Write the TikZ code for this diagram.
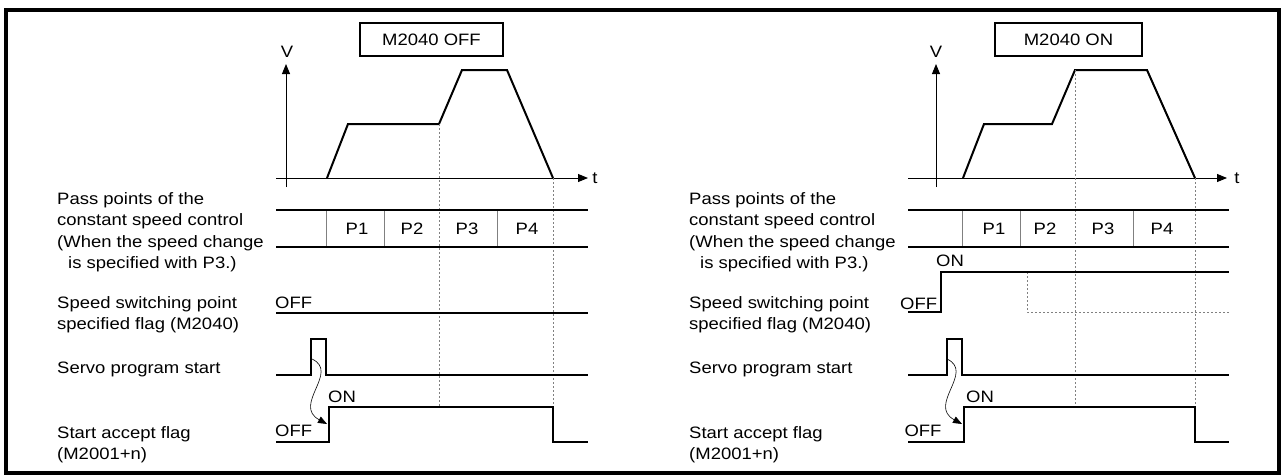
\documentclass[tikz,border=0pt]{standalone}
\usepackage{fontspec}
\setmainfont{Liberation Sans}[FakeStretch=1.12]
\usetikzlibrary{arrows.meta}
\definecolor{guide}{HTML}{808080}

\begin{document}
\begin{tikzpicture}[
  x=1pt,y=-1pt,
  every node/.style={font=\fontsize{16.5}{21.5}\selectfont,inner sep=0pt},
  frame/.style={line width=4pt},
  modebox/.style={draw,line width=1.5pt,minimum height=33pt},
  axis/.style={line width=0.9pt,-{Triangle[length=10pt,width=8pt]}},
  prof/.style={line width=2pt,line join=miter},
  sig/.style={line width=2pt},
  sep/.style={draw=guide,line width=0.9pt},
  guideline/.style={draw=guide,line width=0.9pt,dash pattern=on 2pt off 2pt},
  cause/.style={line width=0.6pt,-{Triangle[length=9pt,width=7pt]}},
  lbl/.style={anchor=base west,align=left}
]
  \useasboundingbox (0,0) rectangle (1283,475);
  \draw[frame] (6,10) rectangle (1279,473);

  % M2040 OFF
  \node[modebox,minimum width=143pt] (offmode) at (431.5,39.5) {M2040 OFF};
  \node (vOff) at (287,52) {V};
  \node (tOff) at (595,178) {t};
  \draw[axis] (286,187) -- (286,64);
  \draw[axis] (276,178) -- (588,178);
  \draw[prof] (327,178) -- (348,124) -- (439,124) -- (462,70) -- (507,70) -- (553,178);
  \draw[guideline] (439,124) -- (439,407) (553,178) -- (553,407);
  \draw[sep] (326,210) -- (326,247) (384,210) -- (384,247) (497,210) -- (497,247);
  \draw[sig] (276,210) -- (588,210) (276,247) -- (588,247);
  \foreach \x/\p in {357/P1,412/P2,467/P3,527/P4}
    \node (\p off) at (\x,229) {\p};
  \draw[sig] (276,313) -- (588,313);
  \draw[sig] (276,375) -- (311,375) -- (311,339) -- (326,339) -- (326,375) -- (588,375);
  \draw[sig] (276,442) -- (329,442) -- (329,407) -- (553,407) -- (553,442) -- (588,442);
  \draw[cause] (312,359) .. controls (340,372) and (292,405) .. (327,424);
  \node[anchor=base west] (swOffL) at (275,308) {OFF};
  \node[anchor=base west] (accOnL) at (328,402) {ON};
  \node[anchor=base west] (accOffL) at (275,436) {OFF};

  \node[lbl] (passOff) at (57,268.5) {Pass points of the\\constant speed control\\(When the speed change\\\hspace*{11pt}is specified with P3.)};
  \node[lbl] (swOff) at (57,329.5) {Speed switching point\\specified flag (M2040)};
  \node[lbl] (srvOff) at (57,373) {Servo program start};
  \node[lbl] (accOff) at (57,459.5) {Start accept flag\\(M2001+n)};

  % M2040 ON
  \node[modebox,minimum width=147pt] (onmode) at (1068.5,39.5) {M2040 ON};
  \node (vOn) at (936,52) {V};
  \node (tOn) at (1237,178) {t};
  \draw[axis] (936,187) -- (936,64);
  \draw[axis] (908,178) -- (1227,178);
  \draw[prof] (963,178) -- (984,124) -- (1052,124) -- (1075,70) -- (1147,70) -- (1195,178);
  \draw[guideline] (1075,70) -- (1075,407) (1195,178) -- (1195,407);
  \draw[guideline] (1027,272) -- (1027,312) -- (1229,312);
  \draw[sep] (962,210) -- (962,247) (1020,210) -- (1020,247) (1133,210) -- (1133,247);
  \draw[sig] (908,210) -- (1229,210) (908,247) -- (1229,247);
  \foreach \x/\p in {994/P1,1045/P2,1103/P3,1162/P4}
    \node (\p on) at (\x,229) {\p};
  \draw[sig] (908,312) -- (941,312) -- (941,272) -- (1229,272);
  \draw[sig] (908,375) -- (947,375) -- (947,339) -- (962,339) -- (962,375) -- (1229,375);
  \draw[sig] (908,442) -- (964,442) -- (964,407) -- (1195,407) -- (1195,442) -- (1229,442);
  \draw[cause] (947,359) .. controls (975,372) and (927,405) .. (962,424);
  \node[anchor=base] (swOnH) at (950,266) {ON};
  \node[anchor=base west] (swOnL) at (900,309) {OFF};
  \node[anchor=base] (accOnH) at (980,402) {ON};
  \node[anchor=base] (accOnLo) at (923,436) {OFF};

  \node[lbl] (passOn) at (689,268.5) {Pass points of the\\constant speed control\\(When the speed change\\\hspace*{11pt}is specified with P3.)};
  \node[lbl] (swOn) at (689,329.5) {Speed switching point\\specified flag (M2040)};
  \node[lbl] (srvOn) at (689,373) {Servo program start};
  \node[lbl] (accOn) at (689,459.5) {Start accept flag\\(M2001+n)};
\end{tikzpicture}
\end{document}
